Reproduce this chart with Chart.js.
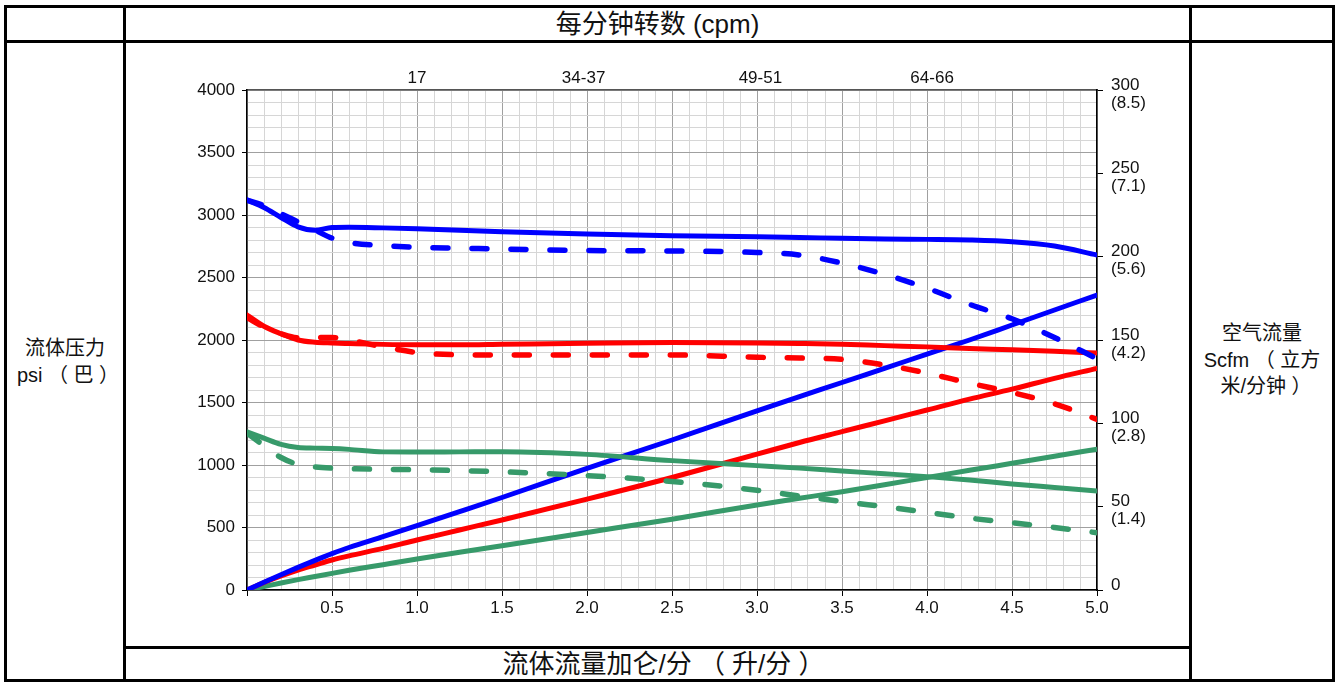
<!DOCTYPE html>
<html>
<head>
<meta charset="utf-8">
<script src="https://cdn.jsdelivr.net/npm/chart.js@4.4.1/dist/chart.umd.min.js"></script>
<style>
body { margin:0; background:#fff; width:1340px; height:682px; overflow:hidden; position:relative;
       font-family:"Liberation Sans","Noto Sans CJK SC",sans-serif; color:#111; }
.ln { position:absolute; background:#000; }
.txt { position:absolute; text-align:center; white-space:nowrap; }
#canvas { position:absolute; left:0; top:0; }
</style>
</head>
<body>
<!-- table frame -->
<div class="ln" style="left:4px;top:5px;width:1331px;height:3px"></div>
<div class="ln" style="left:4px;top:679px;width:1331px;height:3px"></div>
<div class="ln" style="left:4px;top:5px;width:3px;height:677px"></div>
<div class="ln" style="left:1332px;top:5px;width:3px;height:677px"></div>
<div class="ln" style="left:123px;top:5px;width:3px;height:677px"></div>
<div class="ln" style="left:1189px;top:5px;width:3px;height:677px"></div>
<div class="ln" style="left:4px;top:40px;width:1331px;height:3px"></div>
<div class="ln" style="left:123px;top:646px;width:1069px;height:3px"></div>

<div class="txt" style="left:126px;width:1063px;top:7px;font-size:26px;line-height:34px">每分钟转数 (cpm)</div>
<div class="txt" style="left:132px;width:1063px;top:647px;font-size:26px;line-height:34px">流体流量加仑/分 （ 升/分 ）</div>
<div class="txt" style="left:7px;width:116px;top:335px;font-size:20px;line-height:27px">流体压力<br><span style="position:relative;left:3px">psi （ 巴 ）</span></div>
<div class="txt" style="left:1192px;width:140px;top:320px;font-size:20px;line-height:26.5px">空气流量<br>Scfm （ 立方<br><span style="position:relative;left:4px">米/分钟 ）</span></div>

<canvas id="canvas" width="1340" height="682"></canvas>

<script>
// flow, gal/min (shared x positions for every curve)
var flowGpm = [0, 0.1, 0.2, 0.3, 0.4, 0.5, 0.6, 0.8, 1.0, 1.25, 1.5, 2.0, 2.5, 3.0, 3.25, 3.5, 3.75, 4.0, 4.25, 4.5, 4.75, 5.0];

// fluid pressure, psi (left axis)
var bluePsi      = [3120, 3060, 2980, 2905, 2878, 2900, 2902, 2897, 2890, 2878, 2866, 2848, 2834, 2826, 2820, 2814, 2808, 2805, 2800, 2786, 2752, 2680];
var bluePsiDash  = [3120, 3075, 3010, 2945, 2880, 2815, 2780, 2756, 2742, 2735, 2728, 2716, 2712, 2700, 2680, 2615, 2525, 2415, 2285, 2170, 2020, 1850];
var redPsi       = [2200, 2110, 2050, 2000, 1982, 1976, 1972, 1965, 1962, 1962, 1966, 1974, 1980, 1976, 1972, 1966, 1955, 1945, 1932, 1922, 1910, 1896];
var redPsiDash   = [2180, 2104, 2050, 2018, 2020, 2020, 2000, 1945, 1900, 1882, 1880, 1880, 1880, 1862, 1856, 1845, 1800, 1735, 1655, 1580, 1490, 1365];
var greenPsi     = [1265, 1215, 1165, 1140, 1135, 1132, 1125, 1105, 1104, 1105, 1106, 1085, 1035, 995, 975, 952, 930, 907, 880, 848, 820, 792];
var greenPsiDash = [1256, 1155, 1060, 1005, 985, 975, 970, 966, 962, 955, 946, 915, 868, 798, 752, 708, 666, 622, 575, 538, 500, 458];

// air consumption, scfm (right axis)
var blueAir  = [0, 4.6, 9.2, 13.6, 17.8, 21.8, 25.5, 32, 38.6, 47, 55.5, 73, 90, 107.5, 116, 124.5, 133, 141.5, 150, 159, 168, 177];
var redAir   = [0, 4.5, 8.5, 12, 15, 18, 20.5, 25, 30, 36, 42, 54.5, 67.5, 81.5, 88.5, 95, 101.5, 108, 114.5, 120.5, 127, 133];
var greenAir = [0, 2.1, 4.2, 6.2, 8.1, 10, 11.8, 15.2, 18.6, 22.6, 26.5, 34.5, 42.5, 51, 55, 59, 63.2, 67.5, 71.8, 76, 80.2, 84.5];

// top axis (cpm) labels and their positions on the flow axis
var cpmLabels = ['17', '34-37', '49-51', '64-66'];
var cpmPos    = [1.0, 1.98, 3.02, 4.03];

// right axis labels (scfm with m3/min)
var airTicks  = [0, 50, 100, 150, 200, 250, 300];
var airLabels = [['0', ''], ['50', '(1.4)'], ['100', '(2.8)'], ['150', '(4.2)'], ['200', '(5.6)'], ['250', '(7.1)'], ['300', '(8.5)']];

var BLUE = '#0000ff', RED = '#ff0000', GREEN = '#379a6a';

function pts(ys) {
    return flowGpm.map(function(x, i) { return {x: x, y: ys[i]}; });
}
function isMajor(v, step) {
    var r = v / step;
    return Math.abs(r - Math.round(r)) < 1e-6;
}
function steps(min, max, step) {
    var out = [];
    var n = Math.round((max - min) / step);
    for (var i = 0; i <= n; i++) out.push({value: +(min + i * step).toFixed(4)});
    return out;
}
function line(label, ys, color, dashed, axis) {
    return {
        label: label,
        data: pts(ys),
        yAxisID: axis,
        borderColor: color,
        borderWidth: dashed ? 5.5 : 5,
        borderDash: dashed ? [15, 24] : [],
        borderCapStyle: 'round',
        pointRadius: 0,
        fill: false,
        cubicInterpolationMode: 'monotone'
    };
}

Chart.defaults.font.family = '"Liberation Sans", Arial, sans-serif';
Chart.defaults.font.size = 17;
Chart.defaults.color = '#111';

var config = {
    type: 'line',
    data: {
        datasets: [
            line('blue psi', bluePsi, BLUE, false, 'y'),
            line('blue psi dash', bluePsiDash, BLUE, true, 'y'),
            line('red psi', redPsi, RED, false, 'y'),
            line('red psi dash', redPsiDash, RED, true, 'y'),
            line('green psi', greenPsi, GREEN, false, 'y'),
            line('green psi dash', greenPsiDash, GREEN, true, 'y'),
            line('blue air', blueAir, BLUE, false, 'y2'),
            line('red air', redAir, RED, false, 'y2'),
            line('green air', greenAir, GREEN, false, 'y2')
        ]
    },
    options: {
        responsive: false,
        animation: false,
        layout: {
            padding: {left: 187, right: 163, top: 60, bottom: 62}
        },
        plugins: {
            legend: {display: false},
            tooltip: {enabled: false}
        },
        scales: {
            x: {
                type: 'linear',
                position: 'bottom',
                min: 0,
                max: 5,
                afterBuildTicks: function(axis) { axis.ticks = steps(0, 5, 0.1); },
                afterFit: function(axis) { axis.height = 30; },
                ticks: {
                    autoSkip: false,
                    maxRotation: 0,
                    padding: 2,
                    callback: function(v) {
                        return (isMajor(v, 0.5) && v > 0) ? v.toFixed(1) : '';
                    }
                },
                grid: {
                    color: function(ctx) { return isMajor(ctx.tick.value, 0.5) ? '#a0a0a0' : '#d6d6d6'; },
                    tickColor: function(ctx) { return isMajor(ctx.tick.value, 0.5) ? '#000' : 'rgba(0,0,0,0)'; },
                    tickLength: 6
                },
                border: {color: '#000', width: 1.5}
            },
            x2: {
                type: 'linear',
                position: 'top',
                min: 0,
                max: 5,
                afterBuildTicks: function(axis) {
                    axis.ticks = cpmPos.map(function(p) { return {value: p}; });
                },
                afterFit: function(axis) { axis.height = 30; },
                ticks: {
                    autoSkip: false,
                    maxRotation: 0,
                    padding: 1,
                    callback: function(v, i) { return cpmLabels[i]; }
                },
                grid: {drawOnChartArea: false, tickLength: 0, tickColor: 'rgba(0,0,0,0)'},
                border: {color: '#555', width: 1.5}
            },
            y: {
                type: 'linear',
                position: 'left',
                min: 0,
                max: 4000,
                afterBuildTicks: function(axis) { axis.ticks = steps(0, 4000, 100); },
                afterFit: function(axis) { axis.width = 60; },
                ticks: {
                    autoSkip: false,
                    padding: 7,
                    callback: function(v) { return isMajor(v, 500) ? String(v) : ''; }
                },
                grid: {
                    color: function(ctx) { return isMajor(ctx.tick.value, 500) ? '#a0a0a0' : '#d6d6d6'; },
                    tickColor: function(ctx) { return isMajor(ctx.tick.value, 500) ? '#000' : 'rgba(0,0,0,0)'; },
                    tickLength: 5
                },
                border: {color: '#000', width: 1.5}
            },
            y2: {
                type: 'linear',
                position: 'right',
                min: 0,
                max: 300,
                afterBuildTicks: function(axis) {
                    axis.ticks = airTicks.map(function(t) { return {value: t}; });
                },
                afterFit: function(axis) { axis.width = 80; },
                ticks: {
                    autoSkip: false,
                    padding: 8,
                    labelOffset: 4,
                    font: {lineHeight: 1.05},
                    callback: function(v) {
                        var i = airTicks.indexOf(v);
                        return i >= 0 ? airLabels[i] : '';
                    }
                },
                grid: {drawOnChartArea: false, tickLength: 6, tickColor: '#000'},
                border: {color: '#000', width: 1.5}
            }
        }
    }
};

window.onload = function() {
    var ctx = document.getElementById('canvas').getContext('2d');
    window.myLine = new Chart(ctx, config);
};
</script>
</body>
</html>
